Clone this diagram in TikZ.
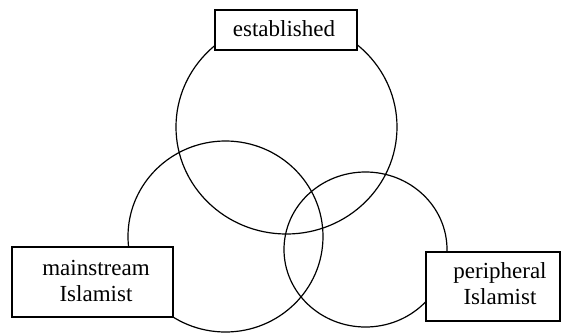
\documentclass[tikz,border=0pt]{standalone}
\usepackage{fontspec}
\setmainfont{Liberation Serif}
\begin{document}
\begin{tikzpicture}[x=1pt,y=-1pt,
  ring/.style={draw=black,line width=1.2pt},
  labelbox/.style={draw=black,fill=white,line width=1.2pt,rectangle,inner sep=0pt},
  labeltext/.style={align=center,font=\fontsize{23}{26}\selectfont,inner sep=0pt}]
\useasboundingbox (0,0) rectangle (563,333);
\fill[white] (0,0) rectangle (563,333);
% circles
\draw[ring] (286.5,127) ellipse [x radius=110.5, y radius=107];
\draw[ring] (225.5,236.5) ellipse [x radius=97.5, y radius=95.5];
\draw[ring] (365.5,249.5) ellipse [x radius=81.5, y radius=77.5];
% boxes
\node[labelbox,minimum width=142pt,minimum height=40pt] (est) at (286,30) {};
\node[labeltext] (esttext) at (284,29) {established};
\node[labelbox,minimum width=161pt,minimum height=70pt] (main) at (92.5,282) {};
\node[labeltext] (maintext) at (96,281) {mainstream\\Islamist};
\node[labelbox,minimum width=134pt,minimum height=69pt] (peri) at (493,286.5) {};
\node[labeltext] (peritext) at (500,284) {peripheral\\Islamist};
\end{tikzpicture}
\end{document}
